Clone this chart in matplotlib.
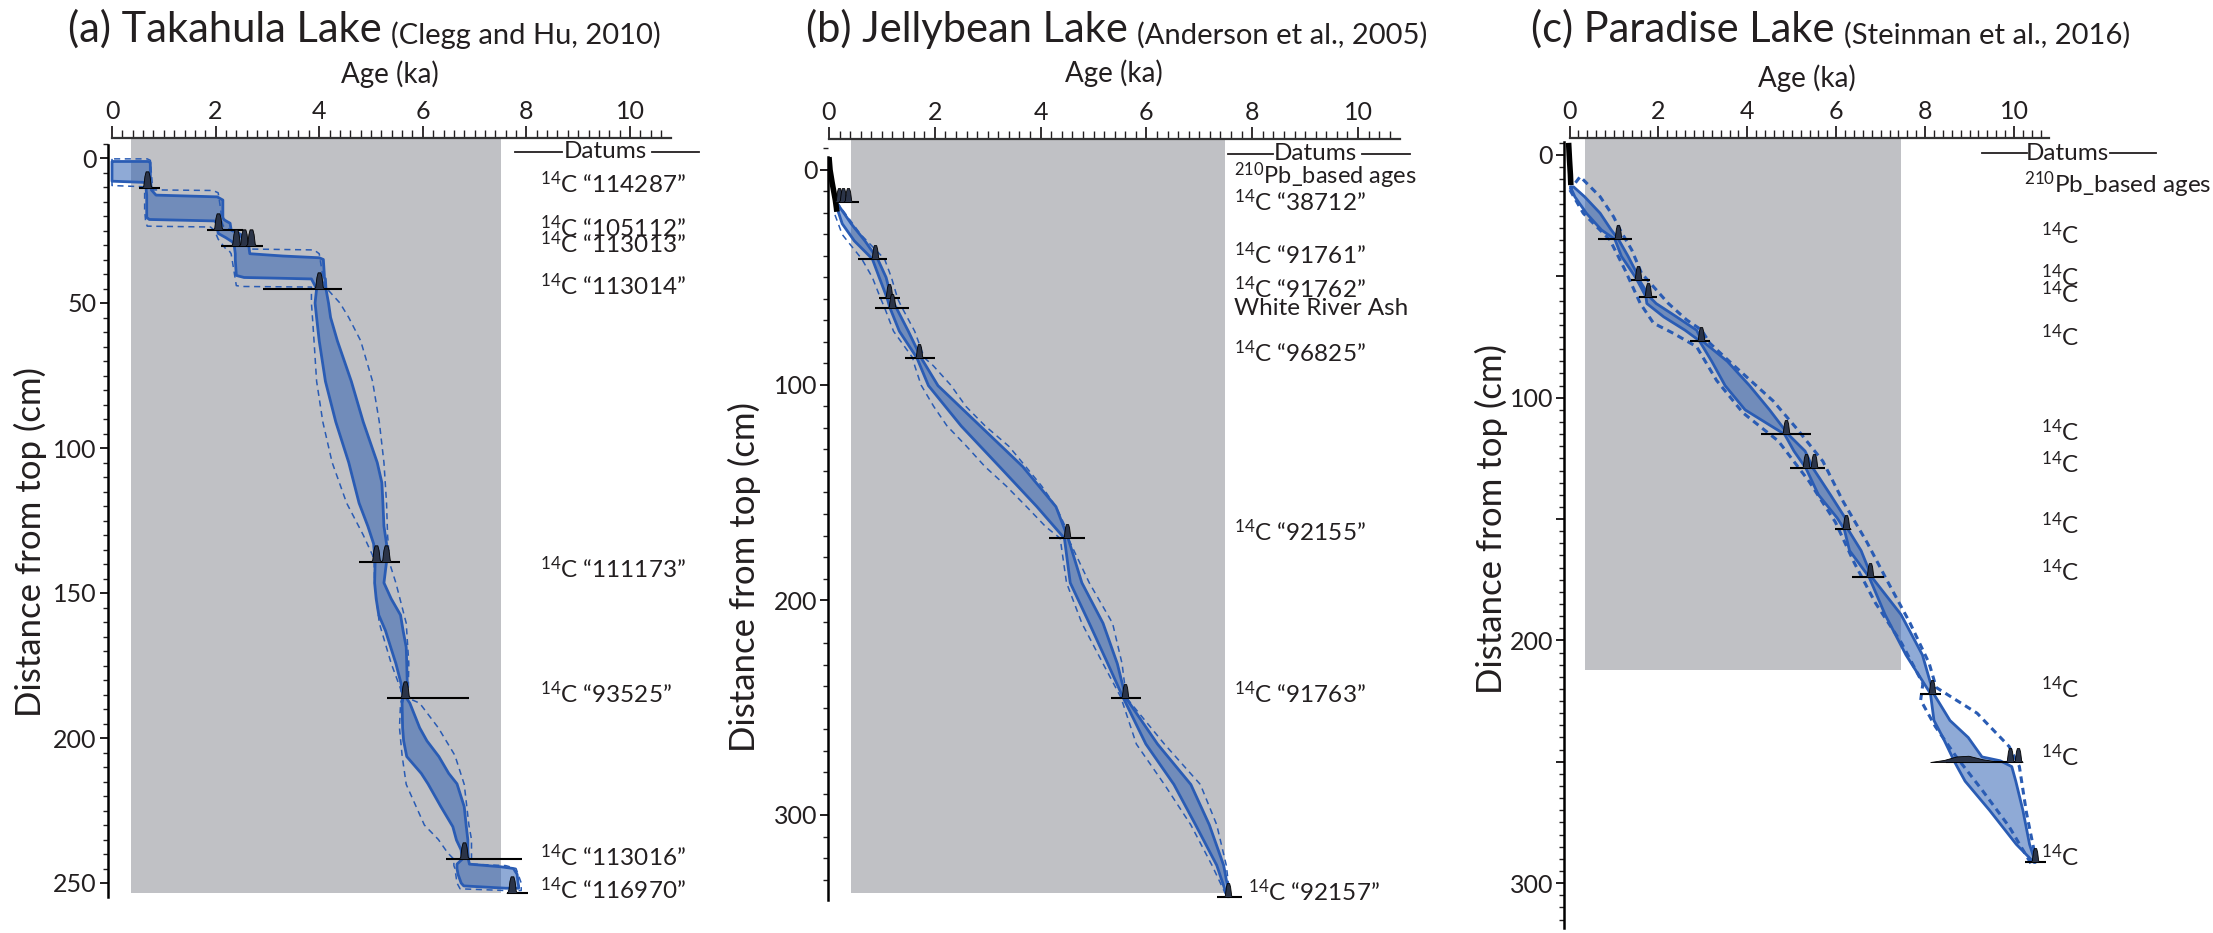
#!/usr/bin/env python3
"""Bayesian age-depth models for Takahula, Jellybean and Paradise lakes.

Each panel shows the 95% model envelope (dashed), the central range
(filled band), the dated horizons with their calibrated-age densities,
and the Holocene window shaded in grey.
"""

import matplotlib
matplotlib.use("Agg")
import matplotlib.pyplot as plt
from matplotlib.lines import Line2D
from matplotlib.path import Path
from matplotlib.ticker import FuncFormatter, MultipleLocator

W, H = 2213, 933

# ---- (a) Takahula Lake ---------------------------------------------------
A_BAND_DEPTH = [1.2, 1.6, 8.0, 8.4, 9.0, 11.0, 12.8, 13.4, 14.5, 20.5,
                21.2, 21.7, 22.5, 24.8, 26.0, 27.5, 29.0, 30.2, 33.0, 33.8,
                34.4, 35.0, 40.5, 41.2, 41.7, 45.1, 50, 55, 63, 77,
                91, 105, 112, 119, 127, 133, 139.2, 146.5, 152, 157.6,
                163, 168.7, 174.3, 181.2, 186.1, 188, 196.5, 201, 206.4, 212.2,
                215.8, 223.7, 230.6, 235.2, 238.6, 241.8, 243.5, 244.4, 245.0, 247,
                250, 251, 251.8]
A_BAND_MIN = [0.0, 0.0, 0.0, 0.62, 0.66, 0.66, 0.67, 0.67, 0.67, 0.67,
              0.72, 1.98, 2.02, 2.04, 2.05, 2.20, 2.33, 2.36, 2.38, 2.38,
              2.38, 2.38, 2.40, 2.55, 3.85, 3.95, 3.92, 3.95, 4.00, 4.12,
              4.32, 4.57, 4.67, 4.77, 4.94, 5.05, 5.08, 5.07, 5.10, 5.15,
              5.28, 5.38, 5.48, 5.58, 5.62, 5.60, 5.61, 5.63, 5.69, 5.97,
              6.10, 6.35, 6.58, 6.65, 6.74, 6.76, 6.66, 6.66, 6.66, 6.68,
              6.74, 6.79, 7.60]
A_BAND_MAX = [0.70, 0.74, 0.74, 0.74, 0.75, 0.76, 0.85, 2.03, 2.14, 2.14,
              2.16, 2.20, 2.28, 2.30, 2.45, 2.58, 2.62, 2.64, 2.66, 3.30,
              4.00, 4.08, 4.10, 4.10, 4.12, 4.13, 4.18, 4.22, 4.35, 4.62,
              4.85, 5.12, 5.21, 5.23, 5.25, 5.30, 5.30, 5.25, 5.39, 5.57,
              5.62, 5.68, 5.69, 5.70, 5.68, 5.75, 5.94, 6.08, 6.31, 6.50,
              6.66, 6.80, 6.84, 6.87, 6.87, 6.88, 6.90, 7.50, 7.75, 7.82,
              7.84, 7.85, 7.85]

A_ENV_DEPTH = [0.3, 0.8, 9.5, 9.9, 10.5, 11.0, 11.2, 12, 18, 22,
               23.5, 23.8, 25, 28, 31.4, 31.7, 33, 44, 44.3, 44.5,
               50, 55, 63, 77, 91, 105, 119, 130, 137, 139.2,
               146.5, 160.4, 174.3, 183, 186.1, 188, 196.5, 206, 216, 230,
               235, 239.6, 241.8, 243.5, 244, 245, 250, 252, 252.6]
A_ENV_MIN = [0.0, 0.0, 0.0, 0.60, 0.62, 0.63, 0.63, 0.63, 0.63, 0.65,
             0.68, 1.90, 1.98, 2.05, 2.20, 2.25, 2.30, 2.40, 2.50, 3.85,
             3.85, 3.87, 3.90, 3.95, 4.07, 4.25, 4.53, 4.85, 5.03, 5.06,
             5.07, 5.16, 5.39, 5.57, 5.60, 5.57, 5.55, 5.60, 5.68, 6.03,
             6.30, 6.48, 6.60, 6.60, 6.60, 6.62, 6.66, 6.72, 7.60]
A_ENV_MAX = [0.68, 0.74, 0.78, 0.78, 0.78, 0.80, 1.95, 2.05, 2.10, 2.12,
             2.15, 2.20, 2.30, 2.55, 2.70, 3.90, 4.00, 4.10, 4.10, 4.12,
             4.40, 4.57, 4.80, 5.03, 5.16, 5.25, 5.30, 5.32, 5.35, 5.35,
             5.48, 5.68, 5.73, 5.72, 5.70, 5.94, 6.30, 6.62, 6.80, 6.89,
             6.94, 6.94, 6.94, 6.95, 7.60, 7.80, 7.90, 7.90, 7.90]

A_DATUM_DEPTH = [10.2, 24.8, 30.2, 45.1, 139.2, 186.1, 241.8, 253.6]
A_DATUM_MIN = [0.52, 1.83, 2.10, 2.91, 4.77, 5.30, 6.45, 7.63]
A_DATUM_MAX = [0.93, 2.53, 2.92, 4.44, 5.56, 6.89, 7.92, 8.04]
A_DATUM_PEAKS = [[0.68], [2.05], [2.40, 2.55, 2.68], [4.00], [5.09, 5.28],
                 [5.66], [6.79], [7.72]]
A_LABELS = ["$^{14}$C \u201c114287\u201d", "$^{14}$C \u201c105112\u201d",
            "$^{14}$C \u201c113013\u201d", "$^{14}$C \u201c113014\u201d",
            "$^{14}$C \u201c111173\u201d", "$^{14}$C \u201c93525\u201d",
            "$^{14}$C \u201c113016\u201d", "$^{14}$C \u201c116970\u201d"]
A_GRAY_AGE = [0.37, 7.50]
A_GRAY_DEPTH = [-6.9, 253.5]

# ---- (b) Jellybean Lake --------------------------------------------------
B_BAND_DEPTH = [16.1, 25, 33, 41.4, 50, 59.7, 64, 75, 87.3, 100.3,
                119.1, 137.9, 156.6, 171.3, 192, 210.8, 229.6, 245.4, 267, 285.8,
                304.6, 323.4, 338]
B_BAND_MIN = [0.13, 0.25, 0.48, 0.82, 0.95, 1.10, 1.15, 1.33, 1.66, 1.88,
              2.50, 3.22, 3.93, 4.45, 4.56, 4.92, 5.27, 5.56, 5.99, 6.52,
              6.93, 7.33, 7.53]
B_BAND_MAX = [0.17, 0.42, 0.68, 0.92, 1.08, 1.18, 1.27, 1.50, 1.74, 2.06,
              2.86, 3.66, 4.29, 4.52, 4.78, 5.18, 5.45, 5.61, 6.21, 6.84,
              7.19, 7.46, 7.57]

B_ENV_DEPTH = [16, 20, 30, 41.4, 50, 60, 64, 75, 87.3, 91,
               100, 110, 119, 128.5, 138, 147, 157, 166, 171.3, 192,
               210.8, 229.6, 245.4, 267, 285.8, 304.6, 323.4, 338]
B_ENV_MIN = [0.12, 0.10, 0.25, 0.62, 0.82, 0.98, 1.05, 1.22, 1.58, 1.62,
             1.74, 1.98, 2.23, 2.60, 2.95, 3.35, 3.75, 4.10, 4.37, 4.49,
             4.78, 5.18, 5.52, 5.81, 6.34, 6.84, 7.24, 7.52]
B_ENV_MAX = [0.18, 0.30, 0.60, 1.05, 1.18, 1.30, 1.38, 1.62, 1.80, 1.97,
             2.30, 2.59, 2.95, 3.40, 3.72, 4.02, 4.30, 4.47, 4.52, 4.92,
             5.36, 5.54, 5.62, 6.34, 7.02, 7.33, 7.51, 7.58]

B_PB_AGE = [0.0, 0.02, 0.06, 0.12, 0.15]
B_PB_DEPTH = [-6.0, 0.0, 6.0, 14.0, 19.4]

B_DATUM_DEPTH = [14.7, 41.4, 59.7, 64.0, 87.3, 171.3, 245.4, 338.0]
B_DATUM_MIN = [0.12, 0.54, 0.95, 0.87, 1.44, 4.16, 5.33, 7.33]
B_DATUM_MAX = [0.56, 1.10, 1.34, 1.52, 2.00, 4.84, 5.90, 7.80]
B_DATUM_PEAKS = [[0.18, 0.27, 0.35], [0.87], [1.14], [1.20], [1.70],
                 [4.49], [5.59], [7.55]]
B_LABELS = ["$^{210}$Pb_based ages", "$^{14}$C \u201c38712\u201d",
            "$^{14}$C \u201c91761\u201d", "$^{14}$C \u201c91762\u201d",
            "White River Ash", "$^{14}$C \u201c96825\u201d",
            "$^{14}$C \u201c92155\u201d", "$^{14}$C \u201c91763\u201d",
            "$^{14}$C \u201c92157\u201d"]
B_GRAY_AGE = [0.41, 7.48]
B_GRAY_DEPTH = [-14.4, 336.3]

# ---- (c) Paradise Lake ---------------------------------------------------
C_BAND_DEPTH = [13.1, 17.2, 24.0, 30.9, 34.7, 41.8, 50, 51.5, 58.4, 61.2,
                66.7, 72.2, 76.5, 85, 95, 105, 115.1, 122, 129.1, 140,
                149.5, 154.1, 163, 173.9, 189.4, 206, 221.9, 233, 240, 248,
                249.6, 252, 258, 270, 284, 291.5]
C_BAND_MIN = [0.02, 0.12, 0.38, 0.72, 1.02, 1.17, 1.47, 1.52, 1.72, 1.74,
              2.12, 2.60, 2.92, 3.20, 3.50, 3.95, 4.84, 5.05, 5.32, 5.60,
              6.02, 6.18, 6.30, 6.74, 7.10, 7.57, 8.12, 8.20, 8.40, 8.61,
              8.65, 8.72, 8.90, 9.45, 10.05, 10.45]
C_BAND_MAX = [0.09, 0.34, 0.69, 0.94, 1.10, 1.32, 1.55, 1.57, 1.80, 1.95,
              2.41, 2.86, 2.98, 3.55, 4.05, 4.50, 4.92, 5.30, 5.48, 5.87,
              6.20, 6.26, 6.56, 6.80, 7.46, 7.94, 8.19, 8.56, 8.97, 9.28,
              9.69, 9.95, 10.04, 10.20, 10.35, 10.48]

C_ENV_LEFT_DEPTH = [14.4, 24.0, 29.5, 35.0, 47.4, 61.1, 69.3, 73.5, 79.0, 92.9,
                    106.2, 117.9, 134.5, 151.2, 167.8, 184.5, 201.1, 217.8, 224.6, 235.5,
                    247.9, 261.6, 276.7, 292.5]
C_ENV_LEFT = [0.01, 0.31, 0.61, 0.91, 1.25, 1.59, 1.89, 2.34, 2.86, 3.31,
              3.90, 4.70, 5.39, 5.98, 6.40, 6.88, 7.47, 7.95, 7.90, 8.23,
              8.70, 9.28, 9.89, 10.40]
C_ENV_RIGHT_DEPTH = [8.9, 17.2, 25.4, 30.9, 39.1, 48.7, 61.1, 68.0, 72.1, 77.6,
                     84.6, 101.3, 112.9, 126.2, 142.9, 159.5, 176.2, 192.8, 209.4, 219.4,
                     230.0, 243.7, 251.9, 271.0, 290.0]
C_ENV_RIGHT = [0.24, 0.69, 0.99, 1.14, 1.40, 1.62, 2.22, 2.64, 2.97, 3.16,
               3.57, 4.58, 5.12, 5.70, 6.16, 6.69, 7.17, 7.66, 8.09, 8.25,
               9.17, 9.89, 10.12, 10.28, 10.49]

C_PB_AGE = [-0.02, 0.0, 0.02, 0.03]
C_PB_DEPTH = [-5.0, 2.0, 8.0, 12.4]

C_DATUM_DEPTH = [34.7, 51.5, 58.4, 76.5, 115.1, 129.1, 154.1, 173.9, 221.9, 250.2, 291.5]
C_DATUM_MIN = [0.63, 1.38, 1.56, 2.71, 4.30, 4.96, 5.98, 6.36, 7.89, 8.48, 10.24]
C_DATUM_MAX = [1.40, 1.80, 1.96, 3.16, 5.44, 5.74, 6.32, 7.07, 8.35, 10.18, 10.72]
C_DATUM_PEAKS = [[1.08], [1.55], [1.77], [2.95], [4.88], [5.33, 5.51], [6.22],
                 [6.77], [8.16], [9.92, 10.08], [10.47]]
C_BROAD_PEAK_DEPTH = [250.2]
C_BROAD_PEAK_AGE = [8.90]
C_LABELS = ["$^{210}$Pb_based ages"] + ["$^{14}$C"] * 11
C_GRAY_AGE = [0.34, 7.45]
C_GRAY_DEPTH = [-6.9, 212.4]

# ---- styling ---------------------------------------------------------------
plt.rcParams["font.family"] = "Lato"
plt.rcParams["mathtext.fontset"] = "custom"
plt.rcParams["mathtext.rm"] = "Lato"
plt.rcParams["mathtext.it"] = "Lato:italic"
plt.rcParams["mathtext.bf"] = "Lato:bold"

INK = "#231f20"
GRAY = "#c0c1c5"
BAND_FILL = "#295db1"
BAND_EDGE = "#2a5cb4"
PEAK_FILL = "#2b3448"

TICK_FS = 18
LABEL_FS = 17.5
YLABEL_FS = 25

_codes = [Path.MOVETO] + [Path.LINETO] * 7 + [Path.CLOSEPOLY]
PEAK_MARKER = Path([(-0.32, 0), (-0.22, 0.12), (-0.15, 0.7), (-0.08, 0.97),
                    (0.08, 0.97), (0.15, 0.7), (0.22, 0.12), (0.32, 0), (-0.32, 0)], _codes)
_codes = [Path.MOVETO] + [Path.LINETO] * 5 + [Path.CLOSEPOLY]
BROAD_MARKER = Path([(-1, 0), (-0.6, 0.06), (-0.25, 0.16), (0.1, 0.18), (0.5, 0.08),
                     (1, 0), (-1, 0)], _codes)


def make_axes(fig, x0, k, xlim, y0, m, ylim):
    """Place an axes so that age 0 sits at x0 px and depth 0 at y0 px."""
    left = x0 + xlim[0] * k
    right = x0 + xlim[1] * k
    top = y0 + ylim[0] * m
    bottom = y0 + ylim[1] * m
    ax = fig.add_axes([left / W, 1 - bottom / H, (right - left) / W, (bottom - top) / H])
    ax.set_xlim(*xlim)
    ax.set_ylim(ylim[1], ylim[0])
    ax.patch.set_alpha(0)
    return ax, bottom, bottom - top


def style_axes(ax, ytop, major_y, minor_y, label_step, ax_bottom, ax_h, label_base):
    ax.spines["right"].set_visible(False)
    ax.spines["bottom"].set_visible(False)
    ax.spines["top"].set_bounds(0, ax.get_xlim()[1])
    ax.spines["top"].set_linewidth(1.6)
    ax.spines["top"].set_color("#333333")
    ax.spines["left"].set_bounds(ytop, ax.get_ylim()[0])
    ax.spines["left"].set_linewidth(1.8)

    ax.xaxis.tick_top()
    ax.xaxis.set_label_position("top")
    ax.xaxis.set_major_locator(MultipleLocator(2))
    ax.xaxis.set_minor_locator(MultipleLocator(0.2))
    ax.yaxis.set_major_locator(MultipleLocator(major_y))
    ax.yaxis.set_minor_locator(MultipleLocator(minor_y))
    ax.yaxis.set_major_formatter(
        FuncFormatter(lambda v, _: f"{v:.0f}" if round(v) % label_step == 0 else ""))

    ax.tick_params(axis="x", which="major", length=9, width=1.3, pad=2,
                   labelsize=TICK_FS, colors=INK)
    ax.tick_params(axis="x", which="minor", length=5.5, width=1.0, colors=INK)
    ax.tick_params(axis="y", which="major", length=6, width=1.4, pad=2,
                   labelsize=TICK_FS, colors=INK)
    ax.tick_params(axis="y", which="minor", length=3.5, width=1.0, colors=INK)

    ax.set_xlabel("Age (ka)", fontsize=20, color=INK)
    ax.xaxis.set_label_coords(0.5, (ax_bottom - label_base) / ax_h)


def draw_gray(ax, ages, depths):
    ax.fill_betweenx(depths, ages[0], ages[1], color=GRAY, lw=0, zorder=0.5)


def draw_band(ax, depth, lo, hi):
    xs = list(lo) + list(hi)[::-1]
    ys = list(depth) + list(depth)[::-1]
    ax.fill(xs, ys, facecolor=BAND_FILL, alpha=0.52, edgecolor="none", zorder=2)
    ax.fill(xs, ys, facecolor="none", edgecolor=BAND_EDGE, lw=2.0,
            joinstyle="round", zorder=3)


def draw_envelope(ax, lo_depth, lo, hi_depth, hi, lw, dashes):
    xs = list(lo) + list(hi)[::-1] + [lo[0]]
    ys = list(lo_depth) + list(hi_depth)[::-1] + [lo_depth[0]]
    ax.plot(xs, ys, color=BAND_EDGE, lw=lw, dashes=dashes, zorder=2.5)


def draw_datums(ax, depth, lo, hi, peaks, size):
    ax.hlines(depth, lo, hi, color="black", lw=1.5, zorder=5)
    for d, ages in zip(depth, peaks):
        ax.plot(ages, [d] * len(ages), ls="none", marker=PEAK_MARKER, ms=size,
                mfc=PEAK_FILL, mec="black", mew=0.6, zorder=6)


def draw_labels(ax, xs, depths, labels, fs=LABEL_FS):
    for x, d, txt in zip(xs, depths, labels):
        ax.text(x, d, txt, fontsize=fs, ha="left", va="center", color=INK)


def px_text(fig, x, y, s, **kw):
    return fig.text(x / W, 1 - y / H, s, color=INK, **kw)


def title(fig, ax, x, main, cite):
    t = px_text(fig, x, 42, main, fontsize=30, ha="left", va="baseline")
    ax.annotate(cite, xy=(1, 0), xycoords=t, xytext=(7, 0), textcoords="offset points",
                fontsize=21, ha="left", va="bottom", color=INK, annotation_clip=False)


def datums_header(fig, y, l0, l1, xc, r0, r1):
    px_text(fig, xc, y, "Datums", fontsize=LABEL_FS, ha="center", va="center")
    for a, b in ((l0, l1), (r0, r1)):
        fig.add_artist(Line2D([a / W, b / W], [1 - y / H] * 2, color=INK, lw=1.3,
                              transform=fig.transFigure))


def main():
    fig = plt.figure(figsize=(W / 100, H / 100), dpi=100)
    fig.patch.set_facecolor("white")

    # (a) Takahula Lake
    ax, bot, h = make_axes(fig, 112, 51.8, (-0.08, 10.79), 158, 2.9, (-6.9, 254.8))
    style_axes(ax, -4.5, 50, 5, 50, bot, h, 83)
    draw_gray(ax, A_GRAY_AGE, A_GRAY_DEPTH)
    draw_envelope(ax, A_ENV_DEPTH, A_ENV_MIN, A_ENV_DEPTH, A_ENV_MAX, 1.1, (4, 3))
    draw_band(ax, A_BAND_DEPTH, A_BAND_MIN, A_BAND_MAX)
    draw_datums(ax, A_DATUM_DEPTH, A_DATUM_MIN, A_DATUM_MAX, A_DATUM_PEAKS, 24)
    draw_labels(ax, [8.26] * 8, [8.7, 24.0, 29.4, 44.1, 141.6, 184.7, 241.0, 252.2], A_LABELS)
    title(fig, ax, 68, "(a) Takahula Lake", "(Clegg and Hu, 2010)")
    datums_header(fig, 152, 515, 562, 605, 652, 699)
    px_text(fig, 30, 542, "Distance from top (cm)", fontsize=YLABEL_FS, rotation=90,
            ha="center", va="center")

    # (b) Jellybean Lake
    ax, bot, h = make_axes(fig, 829, 52.9, (-0.01, 10.79), 170, 2.15, (-14.4, 339.5))
    style_axes(ax, -6.2, 100, 10, 100, bot, h, 82)
    draw_gray(ax, B_GRAY_AGE, B_GRAY_DEPTH)
    draw_envelope(ax, B_ENV_DEPTH, B_ENV_MIN, B_ENV_DEPTH, B_ENV_MAX, 1.1, (4, 3))
    draw_band(ax, B_BAND_DEPTH, B_BAND_MIN, B_BAND_MAX)
    ax.plot(B_PB_AGE, B_PB_DEPTH, color="black", lw=4, solid_capstyle="butt", zorder=5)
    draw_datums(ax, B_DATUM_DEPTH, B_DATUM_MIN, B_DATUM_MAX, B_DATUM_PEAKS, 20)
    draw_labels(ax, [7.66], [2.6], B_LABELS[:1], fs=17)
    draw_labels(ax, [7.66] * 7 + [7.92],
                [14.6, 39.5, 55.0, 64.3, 84.9, 168.4, 243.5, 335.5], B_LABELS[1:])
    title(fig, ax, 805.5, "(b) Jellybean Lake", "(Anderson et al., 2005)")
    datums_header(fig, 154, 1228, 1273, 1315, 1362, 1410)
    px_text(fig, 744, 577, "Distance from top (cm)", fontsize=YLABEL_FS, rotation=90,
            ha="center", va="center")

    # (c) Paradise Lake
    ax, bot, h = make_axes(fig, 1569.5, 44.45, (-0.117, 10.79), 155, 2.427, (-6.9, 318.5))
    style_axes(ax, -5.5, 50, 5, 100, bot, h, 87)
    draw_gray(ax, C_GRAY_AGE, C_GRAY_DEPTH)
    draw_envelope(ax, C_ENV_LEFT_DEPTH, C_ENV_LEFT, C_ENV_RIGHT_DEPTH, C_ENV_RIGHT,
                  2.2, (2.2, 1.6))
    draw_band(ax, C_BAND_DEPTH, C_BAND_MIN, C_BAND_MAX)
    ax.plot(C_PB_AGE, C_PB_DEPTH, color="black", lw=4, solid_capstyle="butt", zorder=5)
    draw_datums(ax, C_DATUM_DEPTH, C_DATUM_MIN, C_DATUM_MAX, C_DATUM_PEAKS, 20)
    ax.plot(C_BROAD_PEAK_AGE, C_BROAD_PEAK_DEPTH, ls="none", marker=BROAD_MARKER, ms=50,
            mfc=PEAK_FILL, mec="black", mew=0.6, zorder=6)
    draw_labels(ax, [10.22] + [10.61] * 11,
                [12.4, 33.0, 50.1, 57.0, 74.7, 113.8, 127.1, 152.4, 171.5, 219.8, 248.0, 289.3],
                C_LABELS)
    title(fig, ax, 1530.7, "(c) Paradise Lake", "(Steinman et al., 2016)")
    datums_header(fig, 153, 1982, 2027, 2067, 2110, 2156)
    px_text(fig, 1491, 519, "Distance from top (cm)", fontsize=YLABEL_FS, rotation=90,
            ha="center", va="center")

    fig.savefig("out.png", dpi=100, facecolor="white")
    plt.close(fig)


if __name__ == "__main__":
    main()
